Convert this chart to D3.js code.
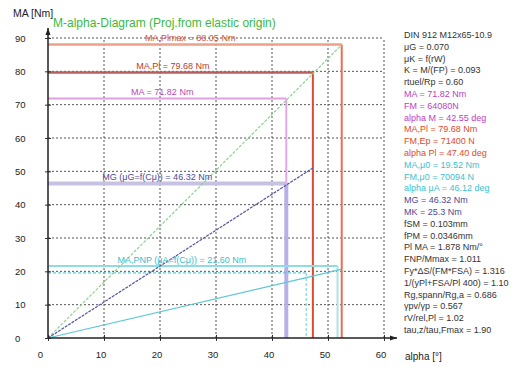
<!DOCTYPE html>
<html><head><meta charset="utf-8">
<script src="https://cdn.jsdelivr.net/npm/d3@7/dist/d3.min.js"></script>
<style>
body{margin:0;background:#fff;}
svg{font-family:"Liberation Sans",Arial,sans-serif;}
</style></head>
<body>
<svg id="c" width="531" height="367"></svg>
<script>
// ---- data ----
const xTicks = [0,10,20,30,40,50,60];
const yTicks = [0,10,20,30,40,50,60,70,80,90];
// projection lines from elastic origin: [alpha, M]
const greenLine = [[0,0],[52.5,88.05]];
const mgLine = [[0,0],[47.3,51.0]];
const cyanLine = [[0,0],[46.12,18.1],[52.3,20.6]];
// level rectangles: level M, alpha
const levelNames = ["MA,Pl,max","MA,Pl","MA","MG","MA,PNP","MA,μ0"];
const levelM =     [88.05, 79.68, 71.82, 46.32, 21.60, 19.52];
const levelAlpha = [52.45, 47.30, 42.55, 42.55, 51.70, 46.12];
const levelLabels = [
  "MA,Plmax = 88.05 Nm",
  "MA,Pl = 79.68 Nm",
  "MA = 71.82 Nm",
  "MG (μG=f(Cμ)) = 46.32 Nm",
  "MA,PNP (μA=f(Cμ)) = 21.60 Nm",
  ""
];
const labelAlpha = [25.4, 22.3, 20.4, 19.5, 23.9, 0];
const infoLines = [
  "DIN 912 M12x65-10.9",
  "μG = 0.070",
  "μK = f(rW)",
  "K = M/(FP) = 0.093",
  "rtuel/Rp = 0.60",
  "MA = 71.82 Nm",
  "FM = 64080N",
  "alpha M = 42.55 deg",
  "MA,Pl = 79.68 Nm",
  "FM,Ep = 71400 N",
  "alpha Pl = 47.40 deg",
  "MA,μ0 = 19.52 Nm",
  "FM,μ0 = 70094 N",
  "alpha μA = 46.12 deg",
  "MG = 46.32 Nm",
  "MK = 25.3 Nm",
  "fSM = 0.103mm",
  "fPM = 0.0346mm",
  "Pl MA = 1.878 Nm/°",
  "FNP/Mmax = 1.011",
  "Fy*ΔS/(FM*FSA) = 1.316",
  "1/(yPl+FSA/Pl 400) = 1.10",
  "Rg,spann/Rg,a = 0.686",
  "γpv/γp = 0.567",
  "rV/rel,Pl = 1.02",
  "tau,z/tau,Fmax = 1.90"
];
const infoGroup = [0,0,0,0,0,1,1,1,2,2,2,3,3,3,4,4,0,0,0,0,0,0,0,0,0,0];

// ---- styles ----
const groupColor = ["#333","#c040c0","#e04a2a","#3cc0d0","#4a4a9a"];

const svg = d3.select("#c");
const x = d3.scaleLinear().domain([0,60]).range([48,384]);
const y = d3.scaleLinear().domain([0,90]).range([338,38]);

// grid
const g = svg.append("g");
g.selectAll(".vg").data(xTicks.filter(d=>d>0)).join("line")
  .attr("x1",d=>x(d)).attr("x2",d=>x(d)).attr("y1",y(0)).attr("y2",y(90))
  .attr("stroke","#555").attr("stroke-dasharray","2,2");
g.selectAll(".hg").data(yTicks.filter(d=>d>0)).join("line")
  .attr("x1",x(0)).attr("x2",x(60)).attr("y1",d=>y(d)).attr("y2",d=>y(d))
  .attr("stroke","#555").attr("stroke-dasharray","2,2");

// level rectangles
const levelStyle = [
  {h:"#eea08a",v:"#e8704e",w:2.5},
  {h:"#b86060",v:"#e04a30",w:2.5},
  {h:"#e0a0e0",v:"#e0a8e8",w:2},
  {h:"#c8c2e2",v:"#b8b0e8",w:4},
  {h:"#90dce4",v:"#a8e4ea",w:2},
  {h:"#3cc0d0",v:"#9adfe6",w:1,dash:"3,2"}
];
levelM.forEach((m,i)=>{
  const s = levelStyle[i];
  const top = (i===2)? y(levelM[3]) : y(0);
  svg.append("line").attr("x1",x(0)).attr("x2",x(levelAlpha[i]))
    .attr("y1",y(m)).attr("y2",y(m)).attr("stroke",s.h).attr("stroke-width",s.w)
    .attr("stroke-dasharray",s.dash||null);
  svg.append("line").attr("x1",x(levelAlpha[i])).attr("x2",x(levelAlpha[i]))
    .attr("y1",y(m)).attr("y2",top).attr("stroke",s.v).attr("stroke-width",i===3?4:(i===5?1.5:2))
    .attr("stroke-dasharray",s.dash||null);
});

// projection lines
const line = d3.line().x(d=>x(d[0])).y(d=>y(d[1]));
svg.append("path").attr("d",line(greenLine)).attr("fill","none")
  .attr("stroke","#8ad48a").attr("stroke-width",1.2).attr("stroke-dasharray","3,1.5");
svg.append("path").attr("d",line(mgLine)).attr("fill","none")
  .attr("stroke","#55559a").attr("stroke-width",1.2).attr("stroke-dasharray","3,1");
svg.append("path").attr("d",line(cyanLine)).attr("fill","none")
  .attr("stroke","#5cc8d4").attr("stroke-width",1.2);

// level labels
const labelColor = ["#d2553a","#b83a30","#b848b8","#4a4a9a","#3cbccc"];
levelLabels.forEach((t,i)=>{
  if(!t) return;
  svg.append("text").attr("x",x(labelAlpha[i])).attr("y",y(levelM[i])-3.5)
    .attr("text-anchor","middle")
    .attr("font-size",9).attr("fill",labelColor[i]).text(t);
});

// axes
const ax = svg.append("g").attr("transform",`translate(0,${y(0)})`)
  .call(d3.axisBottom(x).tickValues(xTicks).tickSize(3).tickPadding(10).tickFormat(d3.format("d")));
ax.select(".domain").remove();
ax.selectAll("line").attr("y1",-3).attr("stroke","#333");
ax.selectAll("text").attr("font-size",9.5).attr("fill","#222").attr("font-family","Liberation Sans, Arial")
  .attr("dx",d=>d===0?-8:-3.5);
const ay = svg.append("g").attr("transform",`translate(${x(0)},0)`)
  .call(d3.axisLeft(y).tickValues(yTicks).tickSize(3).tickPadding(0).tickFormat(d3.format("d")));
ay.select(".domain").remove();
ay.selectAll("line").attr("x2",3).attr("x1",-3).attr("stroke","#333");
ay.selectAll("text").attr("x",-33).attr("text-anchor","start").attr("font-size",9.5).attr("fill","#222")
  .attr("font-family","Liberation Sans, Arial");

svg.append("line").attr("x1",x(0)).attr("x2",397).attr("y1",y(0)).attr("y2",y(0)).attr("stroke","#222").attr("stroke-width",1.5);
svg.append("path").attr("d",`M397,${y(0)} l-7,-2.5 l0,5 z`).attr("fill","#222");
svg.append("line").attr("x1",x(0)).attr("x2",x(0)).attr("y1",y(0)).attr("y2",28).attr("stroke","#222").attr("stroke-width",1.5);
svg.append("path").attr("d",`M${x(0)},28 l-2.5,7 l5,0 z`).attr("fill","#222");

// titles
svg.append("text").attr("x",13).attr("y",17).attr("font-size",10.5).attr("fill","#222").text("MA [Nm]");
svg.append("text").attr("x",53).attr("y",27).attr("font-size",12).attr("fill","#3cb83c").text("M-alpha-Diagram (Proj.from elastic origin)");
svg.append("text").attr("x",405).attr("y",360).attr("font-size",10).attr("fill","#222").text("alpha [°]");

// info block
svg.append("g").selectAll("text").data(infoLines).join("text")
  .attr("x",404).attr("y",(d,i)=>38+i*11.8).attr("font-size",9)
  .attr("fill",(d,i)=>groupColor[infoGroup[i]]).text(d=>d);
</script>
</body></html>
